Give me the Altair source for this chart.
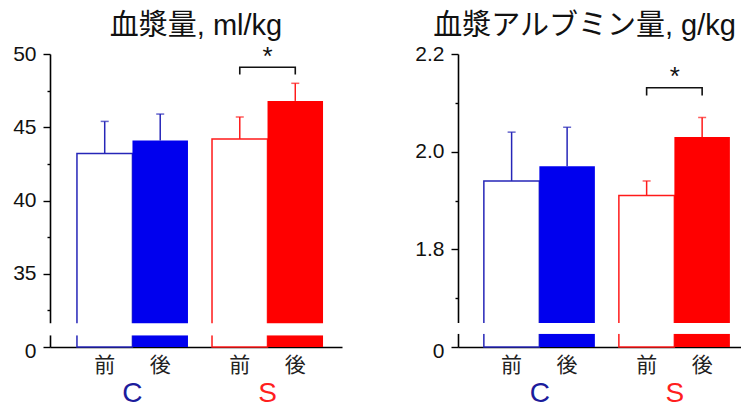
import altair as alt
import pandas as pd

# ---- data ----
groups = ["C", "C", "S", "S"]
times = ["前", "後", "前", "後"]
vol_mean = [43.2, 44.1, 44.2, 46.8]
vol_err = [2.2, 1.8, 1.5, 1.2]
alb_mean = [1.94, 1.97, 1.91, 2.03]
alb_err = [0.10, 0.08, 0.03, 0.04]

vol_ticks = [30, 32.5, 35, 37.5, 40, 42.5, 45, 47.5, 50]
alb_ticks = [1.6, 1.7, 1.8, 1.9, 2.0, 2.1, 2.2]
vol_domain = [30, 50]
alb_domain = [1.6, 2.2]

# significance bracket (end, top), star level and axis-break band
vol_bracket = [48.6, 49.1]
alb_bracket = [2.115, 2.131]
vol_star = 49.8
alb_star = 2.152
vol_break = [30.8, 31.6]
alb_break = [1.627, 1.649]

BLUE, RED = "#0000ee", "#ff0000"
BLUE_LINE, RED_LINE = "#2626b8", "#ff1a1a"
BLUE_TXT, RED_TXT = "#1c1c9c", "#ff1f1f"
NUM_FONT = "Liberation Sans"
JP_FONT = "Noto Sans CJK JP"
H = 293


def panel(mean, err, ticks, domain, bracket, star, brk, title, width,
          pi, po, align, label_expr, minor_test, zero_test, title_dx):
    df = pd.DataFrame({"group": groups, "time": times, "mean": mean, "err": err})
    df["top"] = df["mean"] + df["err"]
    br = pd.DataFrame({"group": ["S"] * 4, "time": ["前", "前", "後", "後"],
                       "y": [bracket[0], bracket[1], bracket[1], bracket[0]],
                       "k": [0, 1, 2, 3]})
    st = pd.DataFrame({"group": ["S"], "y": [star]})
    gl = pd.DataFrame({"group": ["C", "S"]})

    xscale = alt.Scale(domain=["C", "S"], paddingInner=pi, paddingOuter=po, align=align)
    xaxis = alt.Axis(title=None, labels=False, ticks=False, domain=True,
                     domainColor="black", domainWidth=1.6)
    X = alt.X("group:N", scale=xscale, axis=xaxis)
    XO = alt.XOffset("time:N", scale=alt.Scale(domain=["前", "後"], paddingInner=0, paddingOuter=0))
    yscale = alt.Scale(domain=domain, zero=False, nice=False)
    yaxis = alt.Axis(title=None, values=ticks, labelExpr=label_expr,
                     tickSize={"condition": {"test": minor_test, "value": 3}, "value": 7},
                     labelOffset={"condition": {"test": zero_test, "value": 4}, "value": 0},
                     domainColor="black", domainWidth=1.6, tickColor="black",
                     tickWidth=1.4, labelFont=NUM_FONT, labelFontSize=21,
                     labelColor="#111", labelPadding=7, grid=False)

    def Y(field):
        return alt.Y(field, type="quantitative", scale=yscale, axis=yaxis)

    isC = "datum.group == 'C'"
    base = alt.Chart(df)

    before = base.transform_filter("datum.time == '前'").mark_bar(
        fill="white", strokeWidth=1.5).encode(
        x=X, xOffset=XO, y=Y("mean"), y2=alt.Y2(datum=domain[0]),
        stroke=alt.condition(isC, alt.value(BLUE_LINE), alt.value(RED_LINE)))
    after = base.transform_filter("datum.time == '後'").mark_bar().encode(
        x=X, xOffset=XO, y=Y("mean"), y2=alt.Y2(datum=domain[0]),
        color=alt.condition(isC, alt.value(BLUE), alt.value(RED)))
    band = alt.Chart(gl).mark_rect(fill="white").encode(
        x=alt.value(-4), x2=alt.value(width),
        y=alt.Y(datum=brk[1], type="quantitative", scale=yscale, axis=yaxis),
        y2=alt.Y2(datum=brk[0]))
    ecolor = alt.condition(isC, alt.value(BLUE_LINE), alt.value(RED_LINE))
    rule = base.mark_rule(strokeWidth=1.5).encode(
        x=X, xOffset=XO, y=Y("mean"), y2="top", color=ecolor)
    cap = base.mark_tick(size=8, thickness=1.5).encode(
        x=X, xOffset=XO, y=Y("top"), color=ecolor)
    brack = alt.Chart(br).mark_line(color="#111", strokeWidth=1.6).encode(
        x=X, xOffset=XO, y=Y("y"), order="k:Q")
    star_t = alt.Chart(st).mark_text(text="*", font=NUM_FONT, fontSize=26,
                                     color="#111", baseline="middle").encode(
        x=X, y=Y("y"))
    tlab = base.mark_text(font=JP_FONT, fontSize=21, color="#222",
                          baseline="middle").encode(
        x=X, xOffset=XO, y=alt.value(H + 19), text="time:N")
    glab = alt.Chart(gl).mark_text(font=NUM_FONT, fontSize=28,
                                   baseline="middle").encode(
        x=X, y=alt.value(H + 47), text="group:N",
        color=alt.condition(isC, alt.value(BLUE_TXT), alt.value(RED_TXT)))

    return alt.layer(before, after, band, rule, cap, brack, star_t, tlab, glab).properties(
        width=width, height=H,
        title=alt.TitleParams(title, font=f"{NUM_FONT}, {JP_FONT}", fontSize=29,
                              fontWeight="normal", color="#111", offset=2,
                              anchor="middle", dx=title_dx))


left = panel(vol_mean, vol_err, vol_ticks, vol_domain, vol_bracket, vol_star, vol_break,
             "血漿量, ml/kg", 292, 0.178, 0.170, 0.587,
             "datum.value == 30 ? '0' : (datum.value % 5 == 0 ? format(datum.value, 'd') : '')",
             "datum.value % 5 != 0", "datum.value == 30", 0)
right = panel(alb_mean, alb_err, alb_ticks, alb_domain, alb_bracket, alb_star, alb_break,
              "血漿アルブミン量, g/kg", 283, 0.170, 0.133, 0.72,
              "datum.value < 1.65 ? '0' : (round(datum.value * 10) % 2 == 0 ? format(datum.value, '.1f') : '')",
              "round(datum.value * 10) % 2 == 1", "datum.value < 1.65", -15)

chart = alt.hconcat(left, right, spacing=72).properties(
    padding={"left": 12, "top": 12, "right": 0, "bottom": 0},
    background="white",
).configure_view(stroke=None)

chart.save("out.html", embed_options={"renderer": "svg", "actions": False})
